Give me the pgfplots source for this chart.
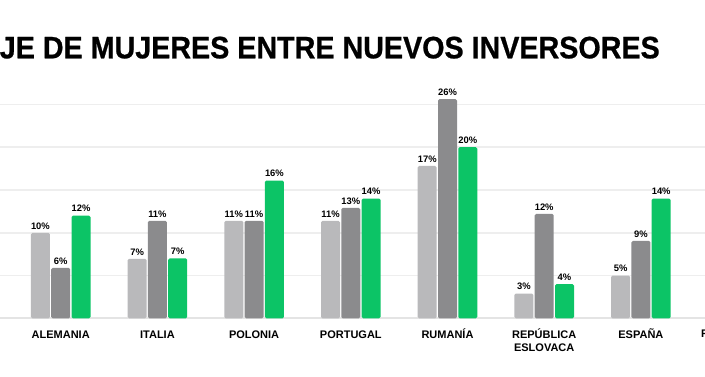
\documentclass[border=0pt]{standalone}
\usepackage{graphicx}
\usepackage{pgfplots}
\usepackage{pgfplotstable}
\pgfplotsset{compat=1.18}
\usepackage{fontspec}
\setmainfont{Liberation Sans}
\newfontfamily\titlefam[FakeBold=0.8]{Liberation Sans Bold}
\definecolor{cLight}{HTML}{B9B9BB}
\definecolor{cDark}{HTML}{8B8B8D}
\definecolor{cGreen}{HTML}{0CC466}
\definecolor{cGrid}{HTML}{EEEEEE}
\definecolor{cBase}{HTML}{E4E4E4}
\newlength\partw
\newcommand\titlefontsel{\titlefam\fontsize{31}{33}\selectfont}

% x: 0 ALEMANIA, 1 ITALIA, 2 POLONIA, 3 PORTUGAL, 4 RUMANIA, 5 REP. ESLOVACA, 6 ESPANA
\pgfplotstableread{
x y l
0 9.99 10
1 6.95 7
2 11.4 11
3 11.4 11
4 17.8 17
5 2.9 3
6 5.0 5
}\tLight
\pgfplotstableread{
x y l
0 5.9 6
1 11.4 11
2 11.4 11
3 12.9 13
4 25.6 26
5 12.2 12
6 9.05 9
}\tDark
\pgfplotstableread{
x y l
0 12.0 12
1 7.0 7
2 16.1 16
3 14.0 14
4 20.0 20
5 4.0 4
6 14.0 14
}\tGreen

\begin{document}%
\settowidth\partw{\titlefontsel JE DE MUJERES ENTRE NUEVOS INVERSORES}%
\pgfmathsetmacro\tsx{660/\partw}%
\begin{tikzpicture}[x=1pt,y=1pt]
\useasboundingbox (0,0) rectangle (705,377);
\clip (0,0) rectangle (705,377);
\node[anchor=base east, inner sep=0pt] at (660,318.7)
  {\scalebox{\tsx}[1]{\titlefontsel PORCENTAJE DE MUJERES ENTRE NUEVOS INVERSORES}};
\begin{axis}[
  at={(62.8,68.5)}, anchor=origin,
  scale only axis, width=705pt, height=231.12pt,
  xmin=-0.631, xmax=6.66, ymin=0, ymax=27,
  axis line style={draw=none}, major tick length=0pt, tick style={draw=none},
  ytick={5,10,15,20,25}, yticklabels={},
  ymajorgrids, grid style={cGrid, line width=1.5pt},
  extra y ticks={0}, extra y tick labels={},
  extra y tick style={grid style={cBase, line width=2pt}},
  xtick={0,...,6},
  xticklabels={ALEMANIA, ITALIA, POLONIA, PORTUGAL, RUMANÍA,
    {\begin{tabular}[t]{@{}c@{}}REPÚBLICA\\ESLOVACA\end{tabular}}, ESPAÑA},
  xticklabel style={font=\bfseries\fontsize{11}{13.5}\selectfont,
    anchor=north, inner sep=0pt, text height=8pt, yshift=-11.5pt},
  ybar=1.3pt, bar width=19pt,
  point meta=explicit symbolic,
  nodes near coords={\pgfplotspointmeta\%},
  every node near coord/.append style={font=\bfseries\fontsize{9.4}{10}\selectfont,
    inner sep=0pt, yshift=3.5pt, text=black},
  clip=false,
]
\addplot[fill=cLight, draw=none, rounded corners=1.5pt] table[x=x, y=y, meta=l]{\tLight};
\addplot[fill=cDark, draw=none, rounded corners=1.5pt] table[x=x, y=y, meta=l]{\tDark};
\addplot[fill=cGreen, draw=none, rounded corners=1.5pt] table[x=x, y=y, meta=l]{\tGreen};
\end{axis}
\node[font=\bfseries\fontsize{11}{13.5}\selectfont, anchor=north, inner sep=0pt, text height=8pt]
  at (737.8,48) {REINO UNIDO};
\end{tikzpicture}%
\end{document}
